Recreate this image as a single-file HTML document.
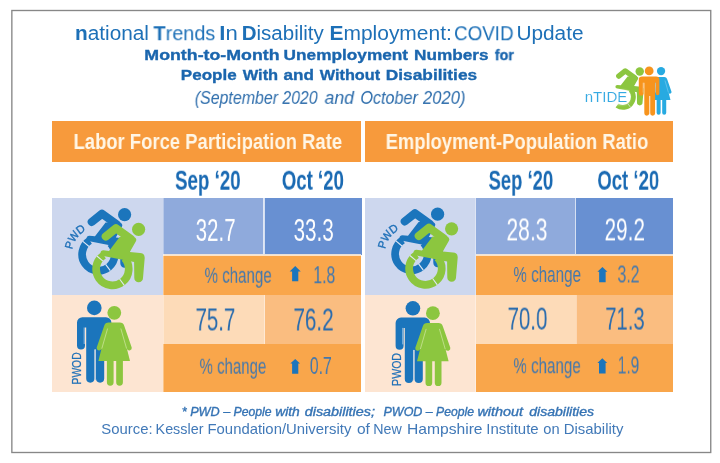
<!DOCTYPE html>
<html><head><meta charset="utf-8"><title>nTIDE COVID Update</title>
<style>
html,body{margin:0;padding:0;background:#fff;}
body{width:720px;height:463px;position:relative;overflow:hidden;font-family:"Liberation Sans",sans-serif;}
.abs{position:absolute;}
.t{position:absolute;white-space:nowrap;transform-origin:0 0;line-height:1;will-change:transform;}
.hd{background:#f79a3c;top:120.8px;height:41px;}
.c{position:absolute;}
svg{position:absolute;left:0;top:0;}
</style></head><body>
<div class="t" id="t1a" style="left:0;top:0;font-size:20px;color:#1d70b7;transform:translate(74.95px,23.2px) scaleX(1.0401);"><b>n</b>ational</div>
<div class="t" id="t1b" style="left:0;top:0;font-size:20px;color:#1d70b7;transform:translate(153.5px,23.2px) scaleX(0.9918);"><b>T</b>rends</div>
<div class="t" id="t1c" style="left:0;top:0;font-size:20px;color:#1d70b7;transform:translate(219.37px,23.2px) scaleX(1.1055);"><b>I</b>n</div>
<div class="t" id="t1d" style="left:0;top:0;font-size:20px;color:#1d70b7;transform:translate(241.72px,23.2px) scaleX(1.0254);"><b>D</b>isability</div>
<div class="t" id="t1e" style="left:0;top:0;font-size:20px;color:#1d70b7;transform:translate(329.44px,23.2px) scaleX(1.0484);"><b>E</b>mployment:</div>
<div class="t" id="t1f" style="left:0;top:0;font-size:20px;color:#1d70b7;transform:translate(454.06px,23.2px) scaleX(0.9388);">COVID</div>
<div class="t" id="t1g" style="left:0;top:0;font-size:20px;color:#1d70b7;transform:translate(516.43px,23.2px) scaleX(1.0404);">Update</div>
<div class="t" id="t2a" style="left:0;top:0;font-size:15.5px;color:#1b66ae;transform:translate(144.34px,47.1px) scaleX(1.1468);font-weight:bold;-webkit-text-stroke:0.35px #1b66ae;">Month-to-Month</div>
<div class="t" id="t2b" style="left:0;top:0;font-size:15.5px;color:#1b66ae;transform:translate(283.6px,47.1px) scaleX(1.1116);font-weight:bold;-webkit-text-stroke:0.35px #1b66ae;">Unemployment</div>
<div class="t" id="t2c" style="left:0;top:0;font-size:15.5px;color:#1b66ae;transform:translate(413.99px,47.1px) scaleX(1.1092);font-weight:bold;-webkit-text-stroke:0.35px #1b66ae;">Numbers</div>
<div class="t" id="t2d" style="left:0;top:0;font-size:15.5px;color:#1b66ae;transform:translate(494.79px,47.1px) scaleX(0.9196);font-weight:bold;-webkit-text-stroke:0.35px #1b66ae;">for</div>
<div class="t" id="t3a" style="left:0;top:0;font-size:15.5px;color:#1b66ae;transform:translate(180.8px,67.2px) scaleX(1.1);font-weight:bold;-webkit-text-stroke:0.35px #1b66ae;">People</div>
<div class="t" id="t3b" style="left:0;top:0;font-size:15.5px;color:#1b66ae;transform:translate(242.65px,67.2px) scaleX(1.0629);font-weight:bold;-webkit-text-stroke:0.35px #1b66ae;">With</div>
<div class="t" id="t3c" style="left:0;top:0;font-size:15.5px;color:#1b66ae;transform:translate(283.54px,67.2px) scaleX(1.1039);font-weight:bold;-webkit-text-stroke:0.35px #1b66ae;">and</div>
<div class="t" id="t3d" style="left:0;top:0;font-size:15.5px;color:#1b66ae;transform:translate(319.75px,67.2px) scaleX(1.0494);font-weight:bold;-webkit-text-stroke:0.35px #1b66ae;">Without</div>
<div class="t" id="t3e" style="left:0;top:0;font-size:15.5px;color:#1b66ae;transform:translate(385.68px,67.2px) scaleX(1.1186);font-weight:bold;-webkit-text-stroke:0.35px #1b66ae;">Disabilities</div>
<div class="t" id="t4a" style="left:0;top:0;font-size:18.4px;color:#2c6cab;transform:translate(194.78px,88.9px) scaleX(0.8661);font-style:italic;">(September</div>
<div class="t" id="t4b" style="left:0;top:0;font-size:18.4px;color:#2c6cab;transform:translate(282.4px,88.9px) scaleX(0.8571);font-style:italic;">2020</div>
<div class="t" id="t4c" style="left:0;top:0;font-size:18.4px;color:#2c6cab;transform:translate(324.59px,88.9px) scaleX(0.9555);font-style:italic;">and</div>
<div class="t" id="t4d" style="left:0;top:0;font-size:18.4px;color:#2c6cab;transform:translate(360.37px,88.9px) scaleX(0.8797);font-style:italic;">October</div>
<div class="t" id="t4e" style="left:0;top:0;font-size:18.4px;color:#2c6cab;transform:translate(422.9px,88.9px) scaleX(0.9036);font-style:italic;">2020)</div>
<div class="abs hd" style="left:52.3px;width:309.2px;"></div>
<div class="abs hd" style="left:364.5px;width:308.5px;"></div>
<div class="t" id="h1" style="left:0;top:0;font-size:21.8px;color:#fff6e6;transform:translate(73.5px,131.0px) scaleX(0.8462);font-weight:bold;">Labor Force Participation Rate</div>
<div class="t" id="h2" style="left:0;top:0;font-size:21.8px;color:#fff6e6;transform:translate(385.65px,131.0px) scaleX(0.8439);font-weight:bold;">Employment-Population Ratio</div>
<div class="t" id="m1" style="left:0;top:0;font-size:28.3px;color:#1a6ab3;transform:translate(175.04px,165.7px) scaleX(0.6627);font-weight:bold;">Sep ‘20</div>
<div class="t" id="m2" style="left:0;top:0;font-size:28.3px;color:#1a6ab3;transform:translate(281.82px,165.7px) scaleX(0.6565);font-weight:bold;">Oct ‘20</div>
<div class="t" id="m3" style="left:0;top:0;font-size:28.3px;color:#1a6ab3;transform:translate(488.55px,165.7px) scaleX(0.6531);font-weight:bold;">Sep ‘20</div>
<div class="t" id="m4" style="left:0;top:0;font-size:28.3px;color:#1a6ab3;transform:translate(597.32px,165.7px) scaleX(0.655);font-weight:bold;">Oct ‘20</div>
<div class="c" style="left:52.3px;top:197.5px;width:111.10000000000001px;height:97.5px;background:#cdd7ee;"></div>
<div class="c" style="left:163.4px;top:197.5px;width:100.6px;height:57.4px;background:#8faadc;"></div>
<div class="c" style="left:264.0px;top:197.5px;width:97.5px;height:57.4px;background:#6890d2;"></div>
<div class="c" style="left:163.4px;top:254.9px;width:198.1px;height:40.1px;background:#f9a64b;"></div>
<div class="c" style="left:52.3px;top:295.0px;width:111.10000000000001px;height:96.9px;background:#fde5d2;"></div>
<div class="c" style="left:163.4px;top:295.0px;width:101.29999999999998px;height:49.0px;background:#fddbb8;"></div>
<div class="c" style="left:264.7px;top:295.0px;width:96.80000000000001px;height:49.0px;background:#fabd80;"></div>
<div class="c" style="left:163.4px;top:344.0px;width:198.1px;height:47.9px;background:#f9a64b;"></div>
<div class="c" style="left:263.4px;top:197.5px;width:1.3px;height:56.6px;background:rgba(255,255,255,.72);"></div>
<div class="c" style="left:163.4px;top:253.9px;width:198.1px;height:2.0px;background:rgba(255,238,220,.85);"></div>
<div class="c" style="left:264.09999999999997px;top:295.0px;width:1.3px;height:49.0px;background:rgba(255,255,255,.4);"></div>
<div class="c" style="left:162.8px;top:197.5px;width:1.2px;height:194.4px;background:rgba(255,255,255,.35);"></div>
<div class="c" style="left:364.5px;top:197.5px;width:111.0px;height:97.5px;background:#cdd7ee;"></div>
<div class="c" style="left:475.5px;top:197.5px;width:99.89999999999998px;height:57.4px;background:#8faadc;"></div>
<div class="c" style="left:575.4px;top:197.5px;width:97.60000000000002px;height:57.4px;background:#6890d2;"></div>
<div class="c" style="left:475.5px;top:254.9px;width:197.5px;height:40.1px;background:#f9a64b;"></div>
<div class="c" style="left:364.5px;top:295.0px;width:111.0px;height:96.9px;background:#fde5d2;"></div>
<div class="c" style="left:475.5px;top:295.0px;width:100.60000000000002px;height:49.0px;background:#fddbb8;"></div>
<div class="c" style="left:576.1px;top:295.0px;width:96.89999999999998px;height:49.0px;background:#fabd80;"></div>
<div class="c" style="left:475.5px;top:344.0px;width:197.5px;height:47.9px;background:#f9a64b;"></div>
<div class="c" style="left:574.8px;top:197.5px;width:1.3px;height:56.6px;background:rgba(255,255,255,.72);"></div>
<div class="c" style="left:475.5px;top:253.9px;width:197.5px;height:2.0px;background:rgba(255,238,220,.85);"></div>
<div class="c" style="left:575.5px;top:295.0px;width:1.3px;height:49.0px;background:rgba(255,255,255,.4);"></div>
<div class="c" style="left:474.9px;top:197.5px;width:1.2px;height:194.4px;background:rgba(255,255,255,.35);"></div>
<div class="t" id="v1" style="left:0;top:0;font-size:31.6px;color:#fff;transform:translate(195.74px,214.9px) scaleX(0.6472);">32.7</div>
<div class="t" id="v2" style="left:0;top:0;font-size:31.6px;color:#fff;transform:translate(293.64px,214.9px) scaleX(0.6506);">33.3</div>
<div class="t" id="v3" style="left:0;top:0;font-size:31.6px;color:#fff;transform:translate(506.46px,214.4px) scaleX(0.6656);">28.3</div>
<div class="t" id="v4" style="left:0;top:0;font-size:31.6px;color:#fff;transform:translate(604.56px,214.4px) scaleX(0.6559);">29.2</div>
<div class="t" id="v5" style="left:0;top:0;font-size:31.6px;color:#2a6cae;transform:translate(195.48px,304.5px) scaleX(0.6473);">75.7</div>
<div class="t" id="v6" style="left:0;top:0;font-size:31.6px;color:#2a6cae;transform:translate(293.37px,304.5px) scaleX(0.6542);">76.2</div>
<div class="t" id="v7" style="left:0;top:0;font-size:31.6px;color:#2a6cae;transform:translate(507.49px,303.6px) scaleX(0.6485);">70.0</div>
<div class="t" id="v8" style="left:0;top:0;font-size:31.6px;color:#2a6cae;transform:translate(605.25px,303.6px) scaleX(0.64);">71.3</div>
<div class="t" id="p1" style="left:0;top:0;font-size:22.4px;color:#4478ad;transform:translate(204.55px,264.8px) scaleX(0.6735);">% change</div>
<div class="t" id="p2" style="left:0;top:0;font-size:22.4px;color:#4478ad;transform:translate(199.55px,355.7px) scaleX(0.6694);">% change</div>
<div class="t" id="p3" style="left:0;top:0;font-size:22.4px;color:#4478ad;transform:translate(513.35px,263.95px) scaleX(0.6786);">% change</div>
<div class="t" id="p4" style="left:0;top:0;font-size:22.4px;color:#4478ad;transform:translate(513.35px,355.2px) scaleX(0.6761);">% change</div>
<div class="t" id="n1" style="left:0;top:0;font-size:23.2px;color:#4478ad;transform:translate(313.22px,264.2px) scaleX(0.6846);">1.8</div>
<div class="t" id="n2" style="left:0;top:0;font-size:23.2px;color:#4478ad;transform:translate(309.81px,355.0px) scaleX(0.6816);">0.7</div>
<div class="t" id="n3" style="left:0;top:0;font-size:23.2px;color:#4478ad;transform:translate(617.51px,263.5px) scaleX(0.6815);">3.2</div>
<div class="t" id="n4" style="left:0;top:0;font-size:23.2px;color:#4478ad;transform:translate(617.7px,354.5px) scaleX(0.6709);">1.9</div>
<div class="t" id="f1a" style="left:0;top:0;font-size:12.2px;color:#3573b4;transform:translate(181.73px,405.5px) scaleX(1.0377);font-style:italic;-webkit-text-stroke:0.35px #3573b4;">* PWD –</div>
<div class="t" id="f1b" style="left:0;top:0;font-size:12.2px;color:#3573b4;transform:translate(233.5px,405.5px) scaleX(1.0);font-style:italic;-webkit-text-stroke:0.35px #3573b4;">People</div>
<div class="t" id="f1c" style="left:0;top:0;font-size:12.2px;color:#3573b4;transform:translate(275.18px,405.5px) scaleX(1.1325);font-style:italic;-webkit-text-stroke:0.35px #3573b4;">with</div>
<div class="t" id="f1d" style="left:0;top:0;font-size:12.2px;color:#3573b4;transform:translate(304.71px,405.5px) scaleX(1.178);font-style:italic;-webkit-text-stroke:0.35px #3573b4;">disabilities;</div>
<div class="t" id="f1e" style="left:0;top:0;font-size:12.2px;color:#3573b4;transform:translate(383.49px,405.5px) scaleX(1.026);font-style:italic;-webkit-text-stroke:0.35px #3573b4;">PWOD –</div>
<div class="t" id="f1f" style="left:0;top:0;font-size:12.2px;color:#3573b4;transform:translate(436.0px,405.5px) scaleX(1.0);font-style:italic;-webkit-text-stroke:0.35px #3573b4;">People</div>
<div class="t" id="f1g" style="left:0;top:0;font-size:12.2px;color:#3573b4;transform:translate(477.41px,405.5px) scaleX(1.1806);font-style:italic;-webkit-text-stroke:0.35px #3573b4;">without</div>
<div class="t" id="f1h" style="left:0;top:0;font-size:12.2px;color:#3573b4;transform:translate(529.21px,405.5px) scaleX(1.1525);font-style:italic;-webkit-text-stroke:0.35px #3573b4;">disabilities</div>
<div class="t" id="f2a" style="left:0;top:0;font-size:14.2px;color:#4179b8;transform:translate(101.25px,421.5px) scaleX(1.05);">Source:</div>
<div class="t" id="f2b" style="left:0;top:0;font-size:14.2px;color:#4179b8;transform:translate(155.55px,421.5px) scaleX(1.0119);">Kessler</div>
<div class="t" id="f2c" style="left:0;top:0;font-size:14.2px;color:#4179b8;transform:translate(207.5px,421.5px) scaleX(1.0482);">Foundation/University</div>
<div class="t" id="f2d" style="left:0;top:0;font-size:14.2px;color:#4179b8;transform:translate(356.96px,421.5px) scaleX(1.0946);">of</div>
<div class="t" id="f2e" style="left:0;top:0;font-size:14.2px;color:#4179b8;transform:translate(373.3px,421.5px) scaleX(1.0039);">New</div>
<div class="t" id="f2f" style="left:0;top:0;font-size:14.2px;color:#4179b8;transform:translate(406.94px,421.5px) scaleX(1.1023);">Hampshire</div>
<div class="t" id="f2g" style="left:0;top:0;font-size:14.2px;color:#4179b8;transform:translate(486.24px,421.5px) scaleX(1.0552);">Institute</div>
<div class="t" id="f2h" style="left:0;top:0;font-size:14.2px;color:#4179b8;transform:translate(543.26px,421.5px) scaleX(1.0328);">on</div>
<div class="t" id="f2i" style="left:0;top:0;font-size:14.2px;color:#4179b8;transform:translate(563.75px,421.5px) scaleX(1.05);">Disability</div>
<svg width="720" height="463" viewBox="0 0 720 463">
<defs>
<g id="wc" fill="none" stroke="currentColor" stroke-linecap="round" stroke-linejoin="round">
<circle cx="451.6" cy="228.8" r="6.6" fill="currentColor" stroke="none"/>
<path d="M416.8,254.7 A16.3,16.3 0 1 0 437.5,257.6" stroke-width="7.7" stroke-linecap="butt"/>
<path d="M432.6,278.5 L437.3,284.8 M416.0,260.6 L409.9,255.5" stroke="#dfe7f5" stroke-width="1.1" stroke-linecap="butt"/>
<polyline points="418.8,236.0 429.0,227.8 443.6,238.4" stroke-width="8.2"/>
<path d="M432.6,236.6 L446.5,236.6 Q450.6,237.6 448.8,241.0 L442.8,251.6 L453.0,252.6 Q457.9,252.9 457.7,257.6 L456.0,277.4 A4.35,4.35 0 0 1 447.3,277.4 L447.1,261.4 L416.4,255.4 A2.8,2.8 0 0 1 416.4,249.8 L422.0,250.4 Z" fill="currentColor" stroke="none"/>
</g>
<g id="wcl" fill="none" stroke="currentColor" stroke-linecap="round" stroke-linejoin="round">
<circle cx="451.6" cy="228.8" r="6.6" fill="currentColor" stroke="none"/>
<path d="M416.1,281.9 A16.3,16.3 0 0 0 437.5,257.6" stroke-width="7.7" stroke-linecap="butt"/>
<path d="M432.6,278.5 L437.3,284.8" stroke="#dfe7f5" stroke-width="1.1" stroke-linecap="butt"/>
<polyline points="418.8,236.0 429.0,227.8 443.6,238.4" stroke-width="8.2"/>
<path d="M432.6,236.6 L446.5,236.6 Q450.6,237.6 448.8,241.0 L442.8,251.6 L453.0,252.6 Q457.9,252.9 457.7,257.6 L456.0,277.4 A4.35,4.35 0 0 1 447.3,277.4 L447.1,261.4 L416.4,255.4 A2.8,2.8 0 0 1 416.4,249.8 L422.0,250.4 Z" fill="currentColor" stroke="none"/>
</g>
<g id="arrow"><polygon points="5.8,0 11.6,6.4 8.9,6.4 8.9,15 2.7,15 2.7,6.4 0,6.4"/></g>
<g id="man">
<circle cx="94.3" cy="307.9" r="7.3"/>
<path d="M82.4,317.2 H106 A5.4,5.4 0 0 1 111.4,322.6 V345.4 A3.0,3.0 0 0 1 105.4,345.4 V327.5 H104.2 V378.6 A4.1,4.1 0 0 1 96.0,378.6 V349.5 H94.4 V378.6 A4.1,4.1 0 0 1 86.2,378.6 V327.5 H85 V345.4 A3.0,3.0 0 0 1 77,345.4 V322.6 A5.4,5.4 0 0 1 82.4,317.2 Z"/>
<path d="M84.2,327.5 V344 M104.8,327.5 V344 M95.2,349.5 V380" stroke="currentColor" stroke-width="1" fill="none"/>
</g>
<g id="woman">
<circle cx="114.3" cy="312.8" r="6.9"/>
<path d="M108.6,322.6 H119.8 A4.6,4.6 0 0 1 124.2,325.8 L131.7,347.4 A2.5,2.5 0 0 1 127.0,349.0 L130.0,360.9 H122.9 V382.3 A3.35,3.35 0 0 1 116.2,382.3 V360.9 H113.6 V382.3 A3.35,3.35 0 0 1 106.9,382.3 V360.9 H98.4 L101.4,349.0 A2.5,2.5 0 0 1 96.7,347.4 L104.2,325.8 A4.6,4.6 0 0 1 108.6,322.6 Z"/>
<path d="M107.6,328.5 L101.8,348.6 M120.8,328.5 L126.6,348.6" stroke="currentColor" stroke-width="0.9" fill="none"/>
</g>
</defs>
<rect x="11.85" y="10.5" width="698.9" height="442" fill="none" stroke="#878787" stroke-width="1.35"/>
<g transform="translate(-14,-14.6)" color="#1b75bc"><use href="#wc"/></g>
<g transform="translate(0,0)" color="#8cc63f"><use href="#wc"/></g>
<g transform="translate(-327,-14.1)" color="#1b75bc"><use href="#wc"/></g>
<g transform="translate(-313,0.5)" color="#8cc63f"><use href="#wc"/></g>
<use href="#man" x="0" y="0" fill="#1b75bc" color="#9cc3e6"/>
<use href="#woman" x="0" y="0" fill="#8cc63f" color="#c3e08f"/>
<use href="#man" x="318.6" y="0.4" fill="#1b75bc" color="#9cc3e6"/>
<use href="#woman" x="318.6" y="0.4" fill="#8cc63f" color="#c3e08f"/>
<g transform="translate(639.6,71.7) scale(0.64) translate(-451.4,-229.1)" color="#8cc63f"><use href="#wcl"/></g>
<g transform="translate(661,71) scale(0.6) translate(-114.2,-312.7)" fill="#27aae1" color="#8ed3f1"><use href="#woman"/></g>
<g transform="translate(649.1,71) scale(0.6) translate(-94.2,-308)" fill="#f7941d" color="#fbc88f"><use href="#man"/></g>
<path id="pw0" d="M385.13,249.24 A26.6,26.6 0 0 1 410.47,226.82" fill="none"/>
<text font-size="11.2" letter-spacing="-0.6" fill="#1f70b8" stroke="#1f70b8" stroke-width="0.35" font-family="Liberation Sans, sans-serif"><textPath href="#pw0">PWD</textPath></text>
<path id="pw1" d="M72.13,249.74 A26.6,26.6 0 0 1 97.47,227.32" fill="none"/>
<text font-size="11.2" letter-spacing="-0.6" fill="#1f70b8" stroke="#1f70b8" stroke-width="0.35" font-family="Liberation Sans, sans-serif"><textPath href="#pw1">PWD</textPath></text>
<text transform="translate(81.1,384.5) rotate(-90)" font-size="12.0" textLength="32.1" lengthAdjust="spacingAndGlyphs" fill="#1f70b8" stroke="#1f70b8" stroke-width="0.25" font-family="Liberation Sans, sans-serif">PWOD</text>
<text transform="translate(400.9,385.9) rotate(-90)" font-size="13.0" textLength="32.9" lengthAdjust="spacingAndGlyphs" fill="#1f70b8" stroke="#1f70b8" stroke-width="0.25" font-family="Liberation Sans, sans-serif">PWOD</text>
<polygon points="295.20,265.90 300.75,271.50 298.30,271.50 298.30,281.20 292.10,281.20 292.10,271.50 289.65,271.50" fill="#1b75bc"/>
<polygon points="295.20,359.00 300.10,363.60 298.30,363.60 298.30,373.80 292.10,373.80 292.10,363.60 290.30,363.60" fill="#1b75bc"/>
<polygon points="602.40,267.00 607.40,271.80 605.65,271.80 605.65,282.20 599.15,282.20 599.15,271.80 597.40,271.80" fill="#1b75bc"/>
<polygon points="602.30,358.30 607.20,363.10 605.60,363.10 605.60,373.50 599.00,373.50 599.00,363.10 597.40,363.10" fill="#1b75bc"/>
</svg>
<div class="abs" style="left:584px;top:90.5px;width:45px;height:13px;background:#fff;border-radius:5px;filter:blur(1.6px);"></div>
<div class="t" id="lg" style="left:0;top:0;font-size:14.4px;color:#35a9e2;transform:translate(584.67px,89.5px) scaleX(1.0469);-webkit-text-stroke:0.12px #fff;text-shadow:0 0 1.5px #fff,0 0 2.5px #fff,0 0 3.5px #fff;">nTIDE</div>
</body></html>
